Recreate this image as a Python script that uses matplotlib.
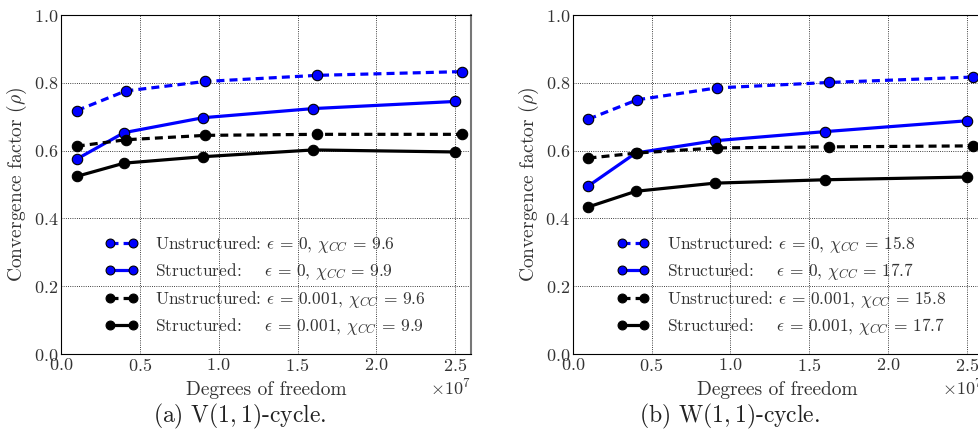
import numpy as np
import matplotlib
matplotlib.use("Agg")
import matplotlib.pyplot as plt

plt.rcParams['font.family'] = 'serif'
plt.rcParams['font.serif'] = ['cmr10', 'DejaVu Serif']
plt.rcParams['mathtext.fontset'] = 'cm'
plt.rcParams['axes.formatter.use_mathtext'] = True
plt.rcParams['axes.unicode_minus'] = False

# degrees of freedom (x 1e7)
dof_unstr = np.array([0.10, 0.41, 0.915, 1.625, 2.54]) * 1e7
dof_str = np.array([0.10, 0.40, 0.90, 1.60, 2.50]) * 1e7

# V(1,1)-cycle
v_unstr_0 = [0.718, 0.776, 0.804, 0.822, 0.833]
v_str_0 = [0.575, 0.653, 0.697, 0.724, 0.745]
v_unstr_eps = [0.613, 0.632, 0.645, 0.648, 0.648]
v_str_eps = [0.524, 0.563, 0.582, 0.602, 0.596]
v_chi = ["9.6", "9.9"]

# W(1,1)-cycle
w_unstr_0 = [0.693, 0.750, 0.785, 0.801, 0.817]
w_str_0 = [0.496, 0.593, 0.629, 0.656, 0.688]
w_unstr_eps = [0.578, 0.593, 0.608, 0.611, 0.614]
w_str_eps = [0.434, 0.480, 0.504, 0.514, 0.522]
w_chi = ["15.8", "17.7"]

captions = ["(a) V$(1,1)$-cycle.", "(b) W$(1,1)$-cycle."]

txt = '#333333'
fig = plt.figure(figsize=(9.79, 4.48), dpi=100)

ax1 = fig.add_axes([0.0623, 0.2098, 0.4188, 0.7567])
ax2 = fig.add_axes([0.5850, 0.2098, 0.4188, 0.7567])

panels = [(ax1, v_unstr_0, v_str_0, v_unstr_eps, v_str_eps, v_chi),
          (ax2, w_unstr_0, w_str_0, w_unstr_eps, w_str_eps, w_chi)]

for ax, u0, s0, ue, se, chi in panels:
    kw = dict(lw=2.3, marker='o', ms=7.5, mec='k', mew=0.8)
    ax.plot(dof_unstr, u0, color='b', mfc='b', dashes=(2.5, 1.6),
            label=r"Unstructured: $\epsilon\,=\,0$, $\chi_{CC}\,=\,%s$" % chi[0], **kw)
    ax.plot(dof_str, s0, color='b', mfc='b',
            label=r"Structured:$\quad\;\;\epsilon\,=\,0$, $\chi_{CC}\,=\,%s$" % chi[1], **kw)
    ax.plot(dof_unstr, ue, color='k', mfc='k', dashes=(2.5, 1.6),
            label=r"Unstructured: $\epsilon\,=\,0.001$, $\chi_{CC}\,=\,%s$" % chi[0], **kw)
    ax.plot(dof_str, se, color='k', mfc='k',
            label=r"Structured:$\quad\;\;\epsilon\,=\,0.001$, $\chi_{CC}\,=\,%s$" % chi[1], **kw)

    ax.set_xlim(0, 2.6e7)
    ax.set_ylim(0, 1.0)
    ax.set_xticks([0, 0.5e7, 1.0e7, 1.5e7, 2.0e7, 2.5e7])
    ax.set_yticks([0, 0.2, 0.4, 0.6, 0.8, 1.0])
    ax.ticklabel_format(axis='x', style='sci', scilimits=(0, 0))
    ax.xaxis.get_offset_text().set_fontsize(13)
    ax.xaxis.get_offset_text().set_color(txt)
    ax.tick_params(length=0, labelsize=13, labelcolor=txt, pad=2)
    ax.grid(True, color='k', linestyle=':', lw=0.6)
    for sp in ax.spines.values():
        sp.set_linewidth(0.8)
    ax.spines['right'].set_color('#777777')
    ax.spines['right'].set_linewidth(1.5)
    ax.set_xlabel("Degrees of freedom", fontsize=14, color=txt, labelpad=5)
    ax.set_ylabel(r"Convergence factor ($\rho$)", fontsize=14, color=txt, labelpad=3)
    leg = ax.legend(loc='lower left', bbox_to_anchor=(0.09, 0.03), frameon=False,
                    fontsize=12.5, numpoints=2, handlelength=1.9, labelspacing=0.36,
                    handletextpad=1.0, borderaxespad=0, markerscale=0.85)
    for t in leg.get_texts():
        t.set_color(txt)

fig.text(240 / 979, 1 - 416 / 448, captions[0], ha='center', va='center', fontsize=17, color='#222222')
fig.text(730 / 979, 1 - 416 / 448, captions[1], ha='center', va='center', fontsize=17, color='#222222')

fig.savefig("out.png", dpi=100)
